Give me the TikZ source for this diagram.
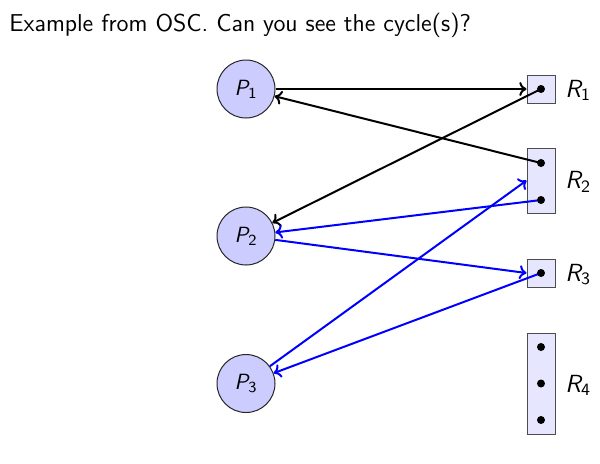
\documentclass[tikz,border=0pt]{standalone}
\usetikzlibrary{arrows.meta}
\pgfdeclarelayer{fg}
\pgfsetlayers{main,fg}
\definecolor{procfill}{RGB}{204,204,255}
\definecolor{resfill}{RGB}{230,230,255}
\begin{document}
\begin{tikzpicture}[x=0.5pt,y=-0.5pt,
  proc/.style={circle,draw=black!85,fill=procfill,line width=0.5pt,minimum size=29pt,inner sep=0pt,font=\fontsize{11}{13}\selectfont\sffamily},
  res/.style={rectangle,draw=black!70,fill=resfill,line width=0.5pt,minimum width=14pt,inner sep=0pt},
  tok/.style={circle,fill=black,minimum size=4pt,inner sep=0pt},
  rlabel/.style={font=\fontsize{12.4}{15}\selectfont\sffamily,anchor=base west,inner sep=0pt},
  edge/.style={-{Computer Modern Rightarrow[length=3.6pt,width=7pt]},line width=1pt}]
\useasboundingbox (0,0) rectangle (600,463);
\node[anchor=base west,inner sep=0pt,font=\fontsize{12.2}{15}\selectfont\sffamily] (title) at (9,31.5) {Example from OSC. Can you see the cycle(s)?};
% processes
\node[proc] (P1) at (246,89) {\slshape P\textsubscript{\upshape 1}};
\node[proc] (P2) at (246,236) {\slshape P\textsubscript{\upshape 2}};
\node[proc] (P3) at (246,383.5) {\slshape P\textsubscript{\upshape 3}};
% resources
\node[res,minimum height=14pt] (R1) at (541,89) {};
\node[res,minimum height=32.5pt] (R2) at (541,180.5) {};
\node[res,minimum height=14pt] (R3) at (541,273) {};
\node[res,minimum height=50.5pt] (R4) at (541,383.5) {};
\node[rlabel] (L1) at (565,97) {\slshape R\textsubscript{\upshape 1}};
\node[rlabel] (L2) at (565,188.5) {\slshape R\textsubscript{\upshape 2}};
\node[rlabel] (L3) at (565,281) {\slshape R\textsubscript{\upshape 3}};
\node[rlabel] (L4) at (565,392) {\slshape R\textsubscript{\upshape 4}};
% tokens
\begin{pgfonlayer}{fg}
\node[tok] (d1) at (541,89) {};
\node[tok] (d2a) at (541,163) {};
\node[tok] (d2b) at (541,200) {};
\node[tok] (d3) at (541,273) {};
\node[tok] (d4a) at (541,347) {};
\node[tok] (d4b) at (541,383.5) {};
\node[tok] (d4c) at (541,420) {};
\end{pgfonlayer}
% edges
\draw[edge] (P1) -- (R1.west);
\draw[edge] (d2a.center) -- (P1);
\draw[edge] (d1.center) -- (P2);
\draw[edge,blue] (d2b.center) -- (P2);
\draw[edge,blue] (P2) -- (R3.west);
\draw[edge,blue] (P3) -- (R2.west);
\draw[edge,blue] (d3.center) -- (P3);
\end{tikzpicture}
\end{document}
